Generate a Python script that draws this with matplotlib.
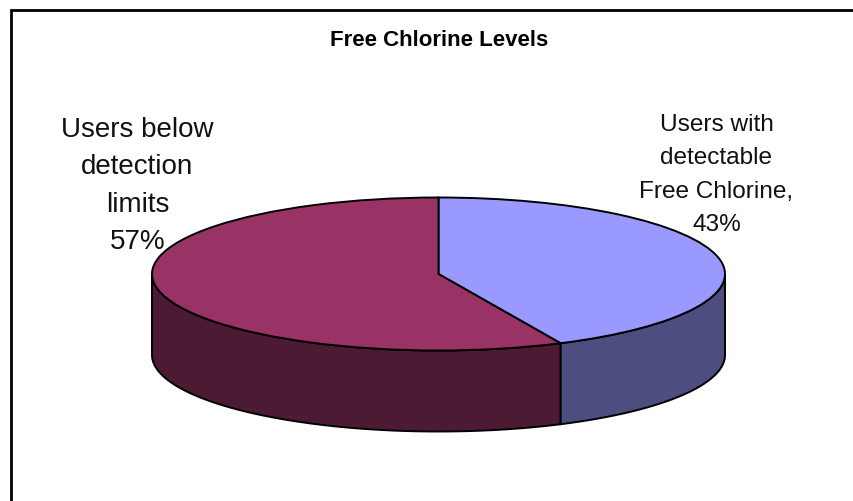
import numpy as np
import matplotlib
matplotlib.use('Agg')
import matplotlib.pyplot as plt

plt.rcParams['font.family'] = ['Liberation Sans', 'DejaVu Sans']

# data
title = 'Free Chlorine Levels'
values = [43, 57]
labels = ['Users with\ndetectable\nFree Chlorine,\n43%', 'Users below\ndetection\nlimits\n57%']
top_colors = ['#9999FF', '#993366']
side_colors = ['#4D4D80', '#4D1A33']

# ellipse of the pie in pixels
cx, cy = 438.5, 275.0
rx, ry = 286.5, 76.5
depth = 81 / ry
W, H = 854, 502

fig = plt.figure(figsize=(W / 100, H / 100), dpi=100, facecolor='white')
ax = fig.add_axes([0, 0, 1, 1])

# top face
ax.pie(values, colors=top_colors, startangle=90, counterclock=False, radius=1,
       wedgeprops={'edgecolor': 'black', 'linewidth': 1.4, 'zorder': 3})

# side walls, only the front half (sin < 0) can be seen
edges = 90 - 360 * np.cumsum([0] + values) / sum(values)
for i in range(len(values)):
    a = max(edges[i + 1], -180)
    b = min(edges[i], 0)
    t = np.radians(np.linspace(b, a, 80))
    x = np.cos(t)
    y = np.sin(t)
    xs = np.r_[x, x[::-1]]
    ys = np.r_[y, y[::-1] - depth]
    ax.fill(xs, ys, facecolor=side_colors[i], edgecolor='black', linewidth=1.4, zorder=2)

# axes cover the whole figure, limits put the unit circle on the ellipse
ax.set_aspect('auto')
ax.set_xlim((0 - cx) / rx, (W - cx) / rx)
ax.set_ylim((cy - H) / ry, (cy - 0) / ry)
ax.axis('off')


def px(x, y):
    return (x - cx) / rx, (cy - y) / ry


# frame, only left and top reach the picture
ax.plot(*zip(px(10.5, H), px(10.5, 10.5), px(W, 10.5)), color='black', lw=2,
        clip_on=False, zorder=5, solid_joinstyle='miter')

ax.text(*px(439, 40.5), title, fontsize=16, fontweight='bold', ha='center', va='center')
ax.text(*px(716.5, 175), labels[0], fontsize=17.6, ha='center', va='center', linespacing=1.66, color='#111111')
ax.text(*px(137.5, 186), labels[1], fontsize=20, ha='center', va='center', linespacing=1.57, color='#111111')

fig.savefig('out.png', dpi=100)
